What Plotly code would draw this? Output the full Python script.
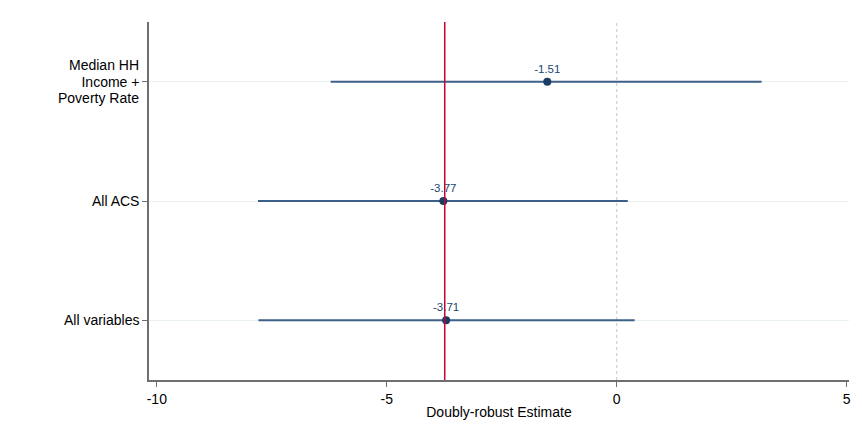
import plotly.graph_objects as go

categories = ["Income +", "All ACS", "All variables"]
extra_label_lines = ["Median HH", "Poverty Rate"]  # lines above/below the first category
estimates = [-1.51, -3.77, -3.71]
ci_low = [-6.22, -7.80, -7.79]
ci_high = [3.15, 0.24, 0.39]
ypos = [3, 2, 1]
ref_line = -3.74
x_ticks = [-10, -5, 0, 5]

fig = go.Figure()

for lo, hi, y in zip(ci_low, ci_high, ypos):
    fig.add_trace(go.Scatter(x=[lo, hi], y=[y, y], mode="lines",
                             line=dict(color="#3c6088", width=2),
                             showlegend=False, hoverinfo="skip"))

fig.add_trace(go.Scatter(x=estimates, y=ypos, mode="markers+text",
                         marker=dict(color="#1a3e63", size=8),
                         text=[f"{v:.2f}" for v in estimates],
                         textposition="top center",
                         textfont=dict(family="Liberation Sans, Arial", size=11.5, color="#1a476f"),
                         showlegend=False))

fig.add_shape(type="line", x0=0, x1=0, y0=0.5, y1=3.5, xref="x", yref="y",
              line=dict(color="#c4c4c4", width=1, dash="dot"), layer="below")
fig.add_shape(type="line", x0=ref_line, x1=ref_line, y0=0.5, y1=3.5, xref="x", yref="y",
              line=dict(color="#c10534", width=1.5))

for txt, shift in zip(extra_label_lines, [16.5, -16.5]):
    fig.add_annotation(text=txt, xref="paper", yref="y", x=0, y=ypos[0],
                       xanchor="right", yanchor="middle", xshift=-8, yshift=shift,
                       showarrow=False, font=dict(size=14, color="black"))

fig.update_layout(
    width=854, height=420,
    margin=dict(l=141, r=13, t=14, b=48),
    plot_bgcolor="white", paper_bgcolor="white",
    font=dict(family="Liberation Sans, Arial", size=14, color="black"),
    xaxis=dict(range=[-10.17, 5.05], tickvals=x_ticks, ticktext=[str(t) for t in x_ticks],
               automargin=False,
               showgrid=False, zeroline=False, showline=True, linecolor="#6e6e6e", linewidth=1.5,
               ticks="outside", ticklen=5, tickcolor="#6e6e6e",
               title=dict(text="Doubly-robust Estimate", font=dict(size=14), standoff=2)),
    yaxis=dict(range=[0.5, 3.5], tickvals=ypos, ticktext=categories,
               automargin=False,
               showgrid=True, gridcolor="#eaf1f2", gridwidth=1, zeroline=False,
               showline=True, linecolor="#6e6e6e", linewidth=1.5,
               ticks="outside", ticklen=5, tickcolor="#6e6e6e"),
)

fig.write_html("out.html")
